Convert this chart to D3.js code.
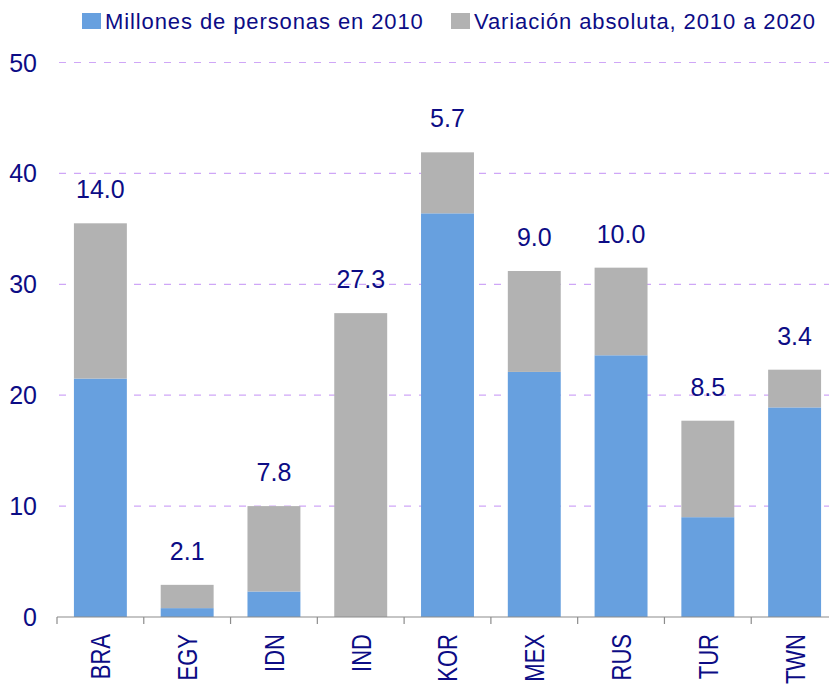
<!DOCTYPE html>
<html>
<head>
<meta charset="utf-8">
<script src="https://cdn.jsdelivr.net/npm/d3@7"></script>
<style>
  body { margin: 0; background: #fff; }
  svg { display: block; font-family: "Liberation Sans", Arial, sans-serif; }
</style>
</head>
<body>
<div id="chart"></div>
<script>
// Countries and values (millions of people)
const countries = ["BRA", "EGY", "IDN", "IND", "KOR", "MEX", "RUS", "TUR", "TWN"];
const base2010 = [21.5, 0.8, 2.3, 0.0, 36.4, 22.1, 23.6, 9.0, 18.9];
const variation = [14.0, 2.1, 7.7, 27.4, 5.5, 9.1, 7.9, 8.7, 3.4];
const variationLabels = ["14.0", "2.1", "7.8", "27.3", "5.7", "9.0", "10.0", "8.5", "3.4"];
const yTicks = [0, 10, 20, 30, 40, 50];
const seriesNames = ["Millones de personas en 2010", "Variación absoluta, 2010 a 2020"];
const colors = ["#67a0df", "#b2b2b2"];

const W = 829, H = 690;
const textColor = "#0c0c85";

const svg = d3.select("#chart").append("svg")
  .attr("width", W)
  .attr("height", H);

// scales
const x = d3.scaleBand()
  .domain(countries)
  .range([57, 838])
  .paddingInner(0.39)
  .paddingOuter(0.195);

const y = d3.scaleLinear()
  .domain([0, 50])
  .range([617, 62.5]);

// gridlines
svg.append("g")
  .selectAll("line")
  .data(yTicks.filter(d => d > 0))
  .join("line")
  .attr("x1", 59)
  .attr("x2", W)
  .attr("y1", d => y(d))
  .attr("y2", d => y(d))
  .attr("stroke", "#cfa6f7")
  .attr("stroke-width", 1.2)
  .attr("stroke-dasharray", "7,8");

// y labels
svg.append("g")
  .selectAll("text")
  .data(yTicks)
  .join("text")
  .attr("x", 37)
  .attr("y", d => y(d))
  .attr("dy", "0.36em")
  .attr("text-anchor", "end")
  .attr("fill", textColor)
  .style("font-size", "25px")
  .text(d => d);

// stacked bars
const rows = countries.map((c, i) => ({ country: c, base: base2010[i], variation: variation[i] }));
const stacked = d3.stack().keys(["base", "variation"])(rows);

svg.append("g")
  .selectAll("g")
  .data(stacked)
  .join("g")
  .attr("fill", (d, i) => colors[i])
  .selectAll("rect")
  .data(d => d)
  .join("rect")
  .attr("x", d => x(d.data.country))
  .attr("y", d => y(d[1]))
  .attr("width", x.bandwidth())
  .attr("height", d => y(d[0]) - y(d[1]));

// value labels above bars
svg.append("g")
  .selectAll("text")
  .data(rows)
  .join("text")
  .attr("x", d => x(d.country) + x.bandwidth() / 2)
  .attr("y", d => y(d.base + d.variation) - 25)
  .attr("text-anchor", "middle")
  .attr("fill", textColor)
  .style("font-size", "25px")
  .text((d, i) => variationLabels[i]);

// x axis line and ticks
const axis = svg.append("g");
axis.append("line")
  .attr("x1", 57).attr("x2", W)
  .attr("y1", 617).attr("y2", 617)
  .attr("stroke", "#8c8c8c")
  .attr("stroke-width", 1.2);

const step = x.step();
const boundaries = d3.range(countries.length).map(i => x.range()[0] + i * step);
axis.selectAll(".tick")
  .data(boundaries)
  .join("line")
  .attr("class", "tick")
  .attr("x1", d => d).attr("x2", d => d)
  .attr("y1", 617).attr("y2", 624)
  .attr("stroke", "#8c8c8c")
  .attr("stroke-width", 1.2);

// x labels, rotated
axis.selectAll(".xlab")
  .data(countries)
  .join("text")
  .attr("class", "xlab")
  .attr("transform", d => `translate(${x(d) + x.bandwidth() / 2},634) rotate(-90) scale(1,1.25)`)
  .attr("dy", "0.36em")
  .attr("text-anchor", "end")
  .attr("fill", textColor)
  .style("font-size", "22px")
  .text(d => d);

// legend
const legendX = [82, 451];
const legend = svg.append("g")
  .selectAll("g")
  .data(seriesNames)
  .join("g")
  .attr("transform", (d, i) => `translate(${legendX[i]},13)`);

legend.append("rect")
  .attr("width", 19)
  .attr("height", 16)
  .attr("fill", (d, i) => colors[i]);

legend.append("text")
  .attr("x", 23)
  .attr("y", 15.5)
  .attr("fill", textColor)
  .style("font-size", "22px")
  .style("letter-spacing", "0.9px")
  .text(d => d);
</script>
</body>
</html>
